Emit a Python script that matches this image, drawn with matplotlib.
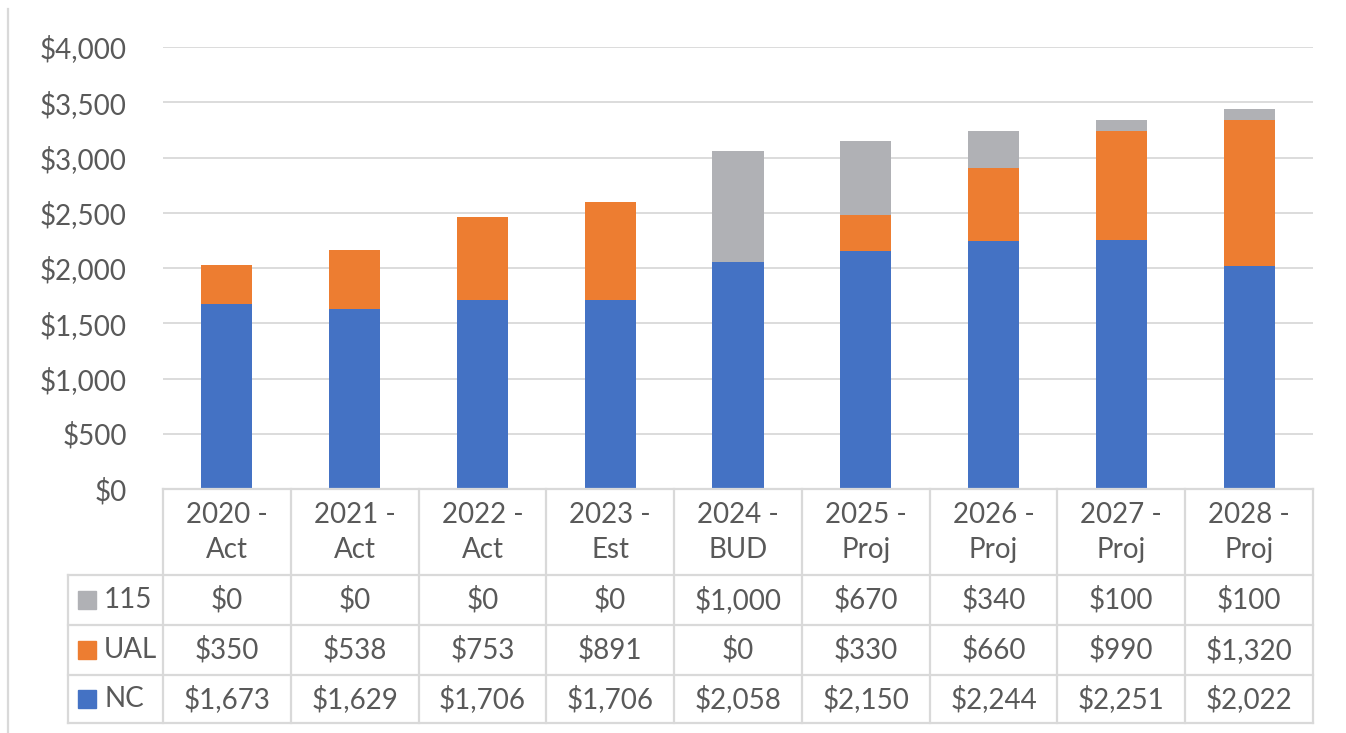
import matplotlib
matplotlib.use("Agg")
import matplotlib.pyplot as plt
from matplotlib.patches import Rectangle
import numpy as np

plt.rcParams['font.family'] = ['Lato', 'DejaVu Sans']

categories = ["2020 -\nAct", "2021 -\nAct", "2022 -\nAct", "2023 -\nEst", "2024 -\nBUD",
              "2025 -\nProj", "2026 -\nProj", "2027 -\nProj", "2028 -\nProj"]
nc = [1673, 1629, 1706, 1706, 2058, 2150, 2244, 2251, 2022]
ual = [350, 538, 753, 891, 0, 330, 660, 990, 1320]
s115 = [0, 0, 0, 0, 1000, 670, 340, 100, 100]
yticks = [0, 500, 1000, 1500, 2000, 2500, 3000, 3500, 4000]

C_NC = "#4472C4"
C_UAL = "#ED7D31"
C_115 = "#B0B1B5"
TXT = "#595959"
GRID = "#D9D9D9"
FS = 20

W, H = 1346, 733
fig = plt.figure(figsize=(W / 100, H / 100), dpi=100)

def fx(px):
    return px / W

def fy(py):
    return 1 - py / H

ax = fig.add_axes([fx(163), fy(489), fx(1313) - fx(163), fy(47) - fy(489)])
x = np.arange(len(categories))
bw = 0.4
nc_a = np.array(nc)
ual_a = np.array(ual)
s115_a = np.array(s115)
ax.bar(x, nc_a, bw, color=C_NC, zorder=3)
ax.bar(x, ual_a, bw, bottom=nc_a, color=C_UAL, zorder=3)
ax.bar(x, s115_a, bw, bottom=nc_a + ual_a, color=C_115, zorder=3)
ax.set_xlim(-0.5, len(categories) - 0.5)
ax.set_ylim(0, 4000)
ax.set_yticks(yticks)
ax.set_yticklabels([f"${v:,}" for v in yticks], color=TXT, fontsize=FS)
ax.tick_params(axis='y', length=0, pad=26)
ax.set_xticks([])
ax.grid(axis='y', color=GRID, linewidth=1.3, zorder=0)
for s in ax.spines.values():
    s.set_visible(False)

# data table
tab = fig.add_axes([fx(68), fy(723), fx(1313) - fx(68), fy(489) - fy(723)])
cw = 1150 / len(categories)
left = -0.5 - (163 - 68) / cw
tab.set_xlim(left, len(categories) - 0.5)
tab.set_ylim(723, 489)
tab.axis('off')
lw = 1.6
row_y = [489, 575, 625, 675, 723]
tab.plot([-0.5, len(categories) - 0.5], [489, 489], color=GRID, lw=lw, clip_on=False)
for yy in row_y[1:]:
    tab.plot([left, len(categories) - 0.5], [yy, yy], color=GRID, lw=lw, clip_on=False)
for i in range(len(categories) + 1):
    xx = i - 0.5
    tab.plot([xx, xx], [489, 723], color=GRID, lw=lw, clip_on=False)
tab.plot([left, left], [575, 723], color=GRID, lw=lw, clip_on=False)

for i, c in enumerate(categories):
    l1, l2 = c.split("\n")
    tab.text(i, 515, l1, ha='center', va='center', color=TXT, fontsize=FS)
    tab.text(i, 550, l2, ha='center', va='center', color=TXT, fontsize=FS)

rows = [("115", s115, C_115, 600), ("UAL", ual, C_UAL, 650), ("NC", nc, C_NC, 699)]
for name, vals, col, yc in rows:
    sq = 18 / cw
    tab.add_patch(Rectangle((left + 10 / cw, yc - 9), sq, 18, color=col, clip_on=False))
    tab.text(left + 36 / cw, yc, name, ha='left', va='center', color=TXT, fontsize=FS)
    for i, v in enumerate(vals):
        tab.text(i, yc, f"${v:,}", ha='center', va='center', color=TXT, fontsize=FS)

fig.add_artist(plt.Line2D([fx(8), fx(8)], [fy(9), fy(733)], color=GRID, lw=1.6))

fig.savefig("out.png", dpi=100)
